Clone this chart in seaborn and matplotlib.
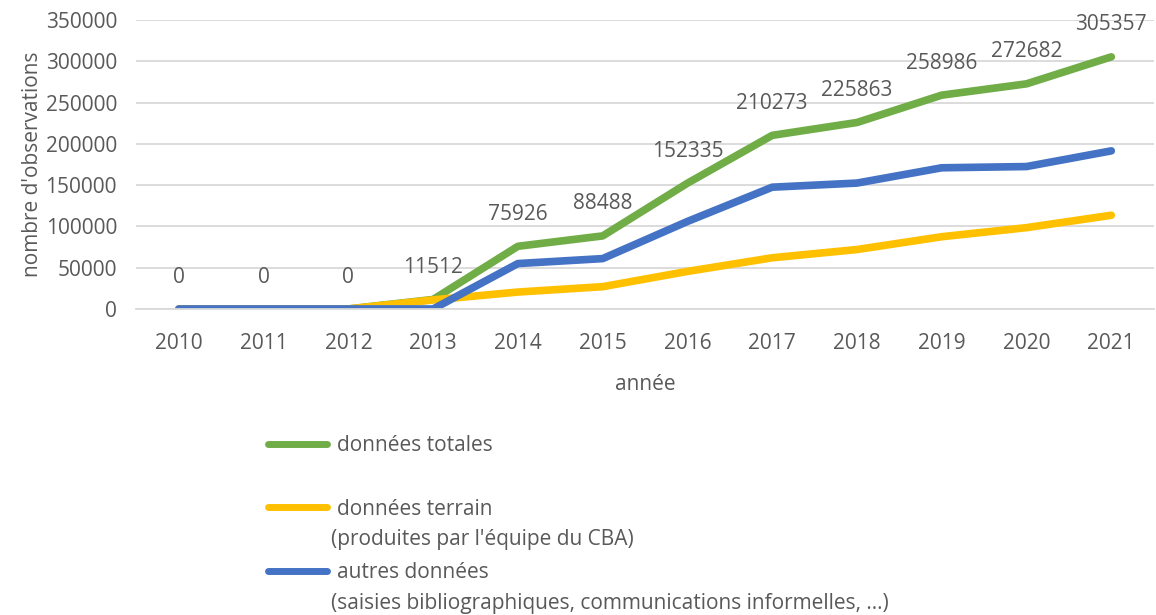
import pandas as pd
import matplotlib
matplotlib.use("Agg")
import matplotlib.pyplot as plt
import seaborn as sns

# values
years = [2010, 2011, 2012, 2013, 2014, 2015, 2016, 2017, 2018, 2019, 2020, 2021]
totales = [0, 0, 0, 11512, 75926, 88488, 152335, 210273, 225863, 258986, 272682, 305357]
terrain = [0, 0, 0, 11000, 20500, 27000, 45500, 62000, 72000, 87500, 98500, 113500]
autres = [0, 0, 0, 0, 55000, 61000, 106000, 147500, 152500, 171000, 172500, 191500]

series_names = ["données totales", "données terrain", "autres données"]
sub_labels = ["", "(produites par l'équipe du CBA)",
              "(saisies bibliographiques, communications informelles, ...)"]
colors = ["#70AD47", "#FFC000", "#4472C4"]

df = pd.DataFrame({
    "année": years * 3,
    "valeur": totales + terrain + autres,
    "série": [n for n in series_names for _ in years],
})

sns.set_theme(style="white")
plt.rcParams["font.family"] = ["Open Sans", "DejaVu Sans"]
grey = "#595959"
fs = 15

fig = plt.figure(figsize=(11.56, 6.15), dpi=100)
ax = fig.add_axes([0.118, 0.4976, 0.88, 0.4699])

sns.lineplot(data=df, x="année", y="valeur", hue="série", hue_order=series_names,
             palette=colors, linewidth=5.5, ax=ax, legend=False)

# data labels over the total line
for x, v in zip(years, totales):
    ax.annotate(str(v), (x, v), xytext=(0, 23), textcoords="offset points",
                ha="center", va="center", fontsize=fs, color=grey)

ax.set_xlim(years[0] - 0.5, years[-1] + 0.5)
ax.set_ylim(0, 350000)
ax.set_yticks(range(0, 350001, 50000))
ax.set_xticks(years)
ax.yaxis.grid(True, color="#D9D9D9", linewidth=1.3)
ax.set_axisbelow(True)
for s in ["top", "right", "left"]:
    ax.spines[s].set_visible(False)
ax.spines["bottom"].set_color("#D9D9D9")
ax.spines["bottom"].set_linewidth(1.3)
ax.tick_params(axis="y", length=0, pad=14, labelsize=fs, labelcolor=grey)
ax.tick_params(axis="x", length=0, pad=17, labelsize=fs, labelcolor=grey)
ax.set_xlabel("année", fontsize=fs, color=grey, labelpad=15)
ax.set_ylabel("nombre d'observations", fontsize=fs, color=grey, labelpad=2)

# legend below the plot, with the extra description lines
handles = [plt.Line2D([], [], color=c, linewidth=5) for c in colors]
fig.legend(handles, series_names, loc="upper left",
           bbox_to_anchor=(268 / 1156, 1 - 435 / 615), frameon=False,
           fontsize=fs, labelcolor=grey, handlelength=2.85, handletextpad=0.45,
           labelspacing=2.05, borderaxespad=0, borderpad=0)
for i, txt in enumerate(sub_labels):
    if txt:
        fig.text(331 / 1156, 1 - (446 + 64 * i + 29) / 615, txt,
                 fontsize=fs, color=grey, va="center", ha="left")

fig.savefig("out.png", dpi=100)
